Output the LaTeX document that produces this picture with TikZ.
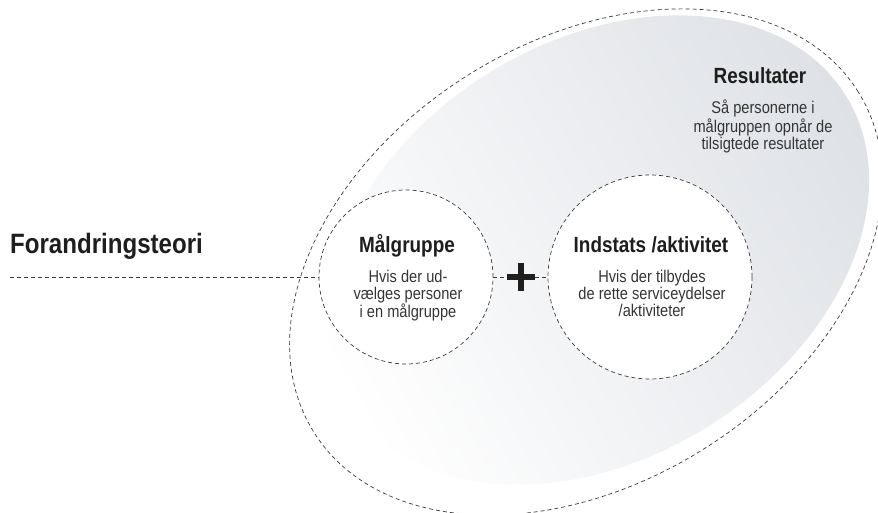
\documentclass[tikz,border=0pt]{standalone}
\usepackage{fontspec}
\setmainfont{Liberation Sans}[FakeStretch=0.86]
\usepackage{tikz}

\definecolor{resgray}{HTML}{DEE1E6}
\definecolor{linegray}{HTML}{3A3A3A}
\definecolor{textdark}{HTML}{1E1E1E}

\begin{document}
\begin{tikzpicture}[x=1pt, y=1pt,
  dline/.style={draw=linegray, line width=0.7pt, dash pattern=on 4pt off 3pt},
  bubble/.style={circle, dline, fill=white, inner sep=0pt},
  titletext/.style={font=\bfseries\fontsize{22}{24}\selectfont, text=textdark, inner sep=0pt},
  bodytext/.style={font=\fontsize{17}{17}\selectfont, text=textdark!90, align=center, inner sep=0pt}]
\useasboundingbox (0,0) rectangle (878,512);

% Resultater area
\shade[top color=resgray, bottom color=white, shading angle=-60] (598,262) ellipse [x radius=292pt, y radius=208pt, rotate=32];
\draw[dline] (586,250) ellipse [x radius=321pt, y radius=221pt, rotate=32];

% Forandringsteori
\node[anchor=base west, font=\bfseries\fontsize{28}{30}\selectfont, text=textdark, inner sep=0pt] (teori) at (10,258) {Forandringsteori};
\coordinate (teorilinje) at (10,235);

% Circles
\node[bubble, minimum size=174pt] (malgruppe) at (406,235) {};
\node[bubble, minimum size=204pt] (indsats) at (650,235) {};
\node[minimum size=28pt, inner sep=0pt] (plus) at (521,235) {};

\draw[dline] (teorilinje) -- (malgruppe.west);
\draw[dline] (malgruppe.east) -- (plus.west);
\draw[dline] (plus.east) -- (indsats.west);
\draw[line width=6pt, textdark] (plus.west) -- (plus.east) (plus.north) -- (plus.south);

% Texts
\node[titletext, anchor=base] (malgruppe-titel) at (407,259) {Målgruppe};
\node[bodytext, anchor=north] (malgruppe-tekst) at (408,242) {Hvis der ud-\\vælges personer\\i en målgruppe};
\node[titletext, anchor=base] (indsats-titel) at (651,259) {Indstats /aktivitet};
\node[bodytext, anchor=north] (indsats-tekst) at (652,242) {Hvis der tilbydes\\de rette serviceydelser\\/aktiviteter};
\node[titletext, anchor=base] (resultat-titel) at (760,428) {Resultater};
\node[bodytext, anchor=north] (resultat-tekst) at (763,412) {Så personerne i\\målgruppen opnår de\\tilsigtede resultater};
\end{tikzpicture}
\end{document}
